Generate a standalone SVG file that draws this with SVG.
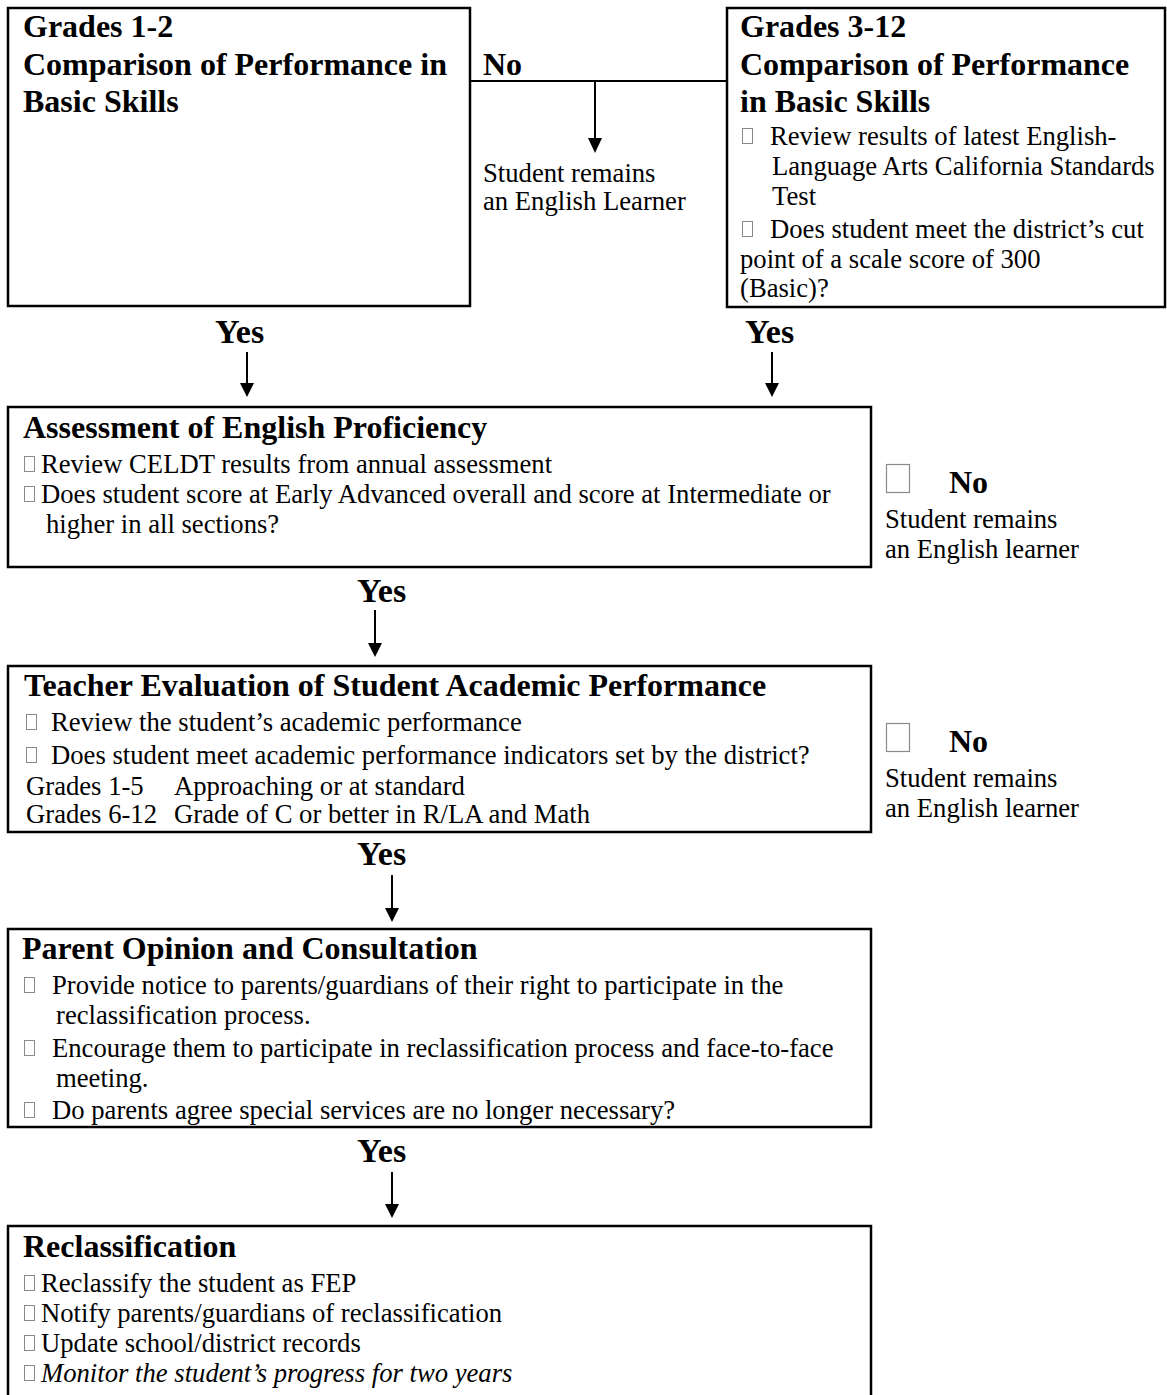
<svg xmlns="http://www.w3.org/2000/svg" width="1167" height="1395" viewBox="0 0 1167 1395">
<style>
.box{fill:#fff;stroke:#000;stroke-width:2.5}
.h{font-family:"Liberation Serif","Times New Roman",serif;font-weight:bold;font-size:32px;fill:#000}
.t{font-family:"Liberation Serif","Times New Roman",serif;font-size:26.67px;fill:#000}
.i{font-style:italic}
.yes{font-family:"Liberation Serif","Times New Roman",serif;font-weight:bold;font-size:34px;fill:#000}
.b{fill:none;stroke:#8a8a8a;stroke-width:1}
.bb{fill:none;stroke:#8a8a8a;stroke-width:1.2}
.ln{stroke:#000;stroke-width:2;fill:none}
.ah{fill:#000}
</style>
<rect width="1167" height="1395" fill="#fff"/>

<g id="connectors">
<line class="ln" x1="470" y1="81" x2="727" y2="81"/>
<path class="ln" d="M595,81 V138"/>
<path class="ah" d="M588,138 L602,138 L595,153 Z"/>
<path class="ln" d="M247,352 V383"/>
<path class="ah" d="M240,383 L254,383 L247,397 Z"/>
<path class="ln" d="M772,352 V383"/>
<path class="ah" d="M765,383 L779,383 L772,397 Z"/>
<path class="ln" d="M375,610 V643"/>
<path class="ah" d="M368,643 L382,643 L375,657 Z"/>
<path class="ln" d="M392,875 V908"/>
<path class="ah" d="M385,908 L399,908 L392,922 Z"/>
<path class="ln" d="M392,1172 V1204"/>
<path class="ah" d="M385,1204 L399,1204 L392,1218 Z"/>
<text class="h" x="483" y="75">No</text>
<text class="t" x="483" y="182">Student remains</text>
<text class="t" x="483" y="210">an English Learner</text>
<text class="yes" x="215" y="343">Yes</text>
<text class="yes" x="745" y="343">Yes</text>
<text class="yes" x="357" y="602">Yes</text>
<text class="yes" x="357" y="865">Yes</text>
<text class="yes" x="357" y="1162">Yes</text>
</g>

<g id="grades12">
<rect class="box" x="8" y="8" width="462" height="298"/>
<text class="h" x="23" y="37">Grades 1-2</text>
<text class="h" x="23" y="75">Comparison of Performance in</text>
<text class="h" x="23" y="112">Basic Skills</text>
</g>

<g id="grades312">
<rect class="box" x="727" y="8" width="438" height="299"/>
<text class="h" x="740" y="37">Grades 3-12</text>
<text class="h" x="740" y="75">Comparison of Performance</text>
<text class="h" x="740" y="112">in Basic Skills</text>
<rect class="b" x="742.5" y="128.5" width="10" height="15"/>
<text class="t" x="770" y="145">Review results of latest English-</text>
<text class="t" x="772" y="175">Language Arts California Standards</text>
<text class="t" x="772" y="205">Test</text>
<rect class="b" x="742.5" y="221.5" width="10" height="15"/>
<text class="t" x="770" y="238">Does student meet the district’s cut</text>
<text class="t" x="740" y="268">point of a scale score of 300</text>
<text class="t" x="740" y="297">(Basic)?</text>
</g>

<g id="assessment">
<rect class="box" x="8" y="407" width="863" height="160"/>
<text class="h" x="23" y="438">Assessment of English Proficiency</text>
<rect class="b" x="24.5" y="456.5" width="10" height="15"/>
<text class="t" x="41" y="473">Review CELDT results from annual assessment</text>
<rect class="b" x="24.5" y="486.5" width="10" height="15"/>
<text class="t" x="41" y="503">Does student score at Early Advanced overall and score at Intermediate or</text>
<text class="t" x="46" y="533">higher in all sections?</text>
</g>

<g id="no1">
<rect class="bb" x="886.5" y="464.5" width="23" height="28"/>
<text class="h" x="949" y="493">No</text>
<text class="t" x="885" y="528">Student remains</text>
<text class="t" x="885" y="558">an English learner</text>
</g>

<g id="teacher">
<rect class="box" x="8" y="666" width="863" height="166"/>
<text class="h" x="24" y="696">Teacher Evaluation of Student Academic Performance</text>
<rect class="b" x="26.5" y="714.5" width="10" height="15"/>
<text class="t" x="51" y="731">Review the student’s academic performance</text>
<rect class="b" x="26.5" y="747.5" width="10" height="15"/>
<text class="t" x="51" y="764">Does student meet academic performance indicators set by the district?</text>
<text class="t" x="26" y="795">Grades 1-5</text>
<text class="t" x="174" y="795">Approaching or at standard</text>
<text class="t" x="26" y="823">Grades 6-12</text>
<text class="t" x="174" y="823">Grade of C or better in R/LA and Math</text>
</g>

<g id="no2">
<rect class="bb" x="886.5" y="723.5" width="23" height="28"/>
<text class="h" x="949" y="752">No</text>
<text class="t" x="885" y="787">Student remains</text>
<text class="t" x="885" y="817">an English learner</text>
</g>

<g id="parent">
<rect class="box" x="8" y="929" width="863" height="198"/>
<text class="h" x="22" y="959">Parent Opinion and Consultation</text>
<rect class="b" x="24.5" y="977.5" width="10" height="15"/>
<text class="t" x="52" y="994">Provide notice to parents/guardians of their right to participate in the</text>
<text class="t" x="56" y="1024">reclassification process.</text>
<rect class="b" x="24.5" y="1040.5" width="10" height="15"/>
<text class="t" x="52" y="1057">Encourage them to participate in reclassification process and face-to-face</text>
<text class="t" x="56" y="1087">meeting.</text>
<rect class="b" x="24.5" y="1102.5" width="10" height="15"/>
<text class="t" x="52" y="1119">Do parents agree special services are no longer necessary?</text>
</g>

<g id="reclassification">
<rect class="box" x="8" y="1226" width="863" height="200"/>
<text class="h" x="23" y="1257">Reclassification</text>
<rect class="b" x="24.5" y="1275.5" width="10" height="15"/>
<text class="t" x="41" y="1292">Reclassify the student as FEP</text>
<rect class="b" x="24.5" y="1305.5" width="10" height="15"/>
<text class="t" x="41" y="1322">Notify parents/guardians of reclassification</text>
<rect class="b" x="24.5" y="1335.5" width="10" height="15"/>
<text class="t" x="41" y="1352">Update school/district records</text>
<rect class="b" x="24.5" y="1365.5" width="10" height="15"/>
<text class="t i" x="41" y="1382">Monitor the student’s progress for two years</text>
</g>
</svg>
